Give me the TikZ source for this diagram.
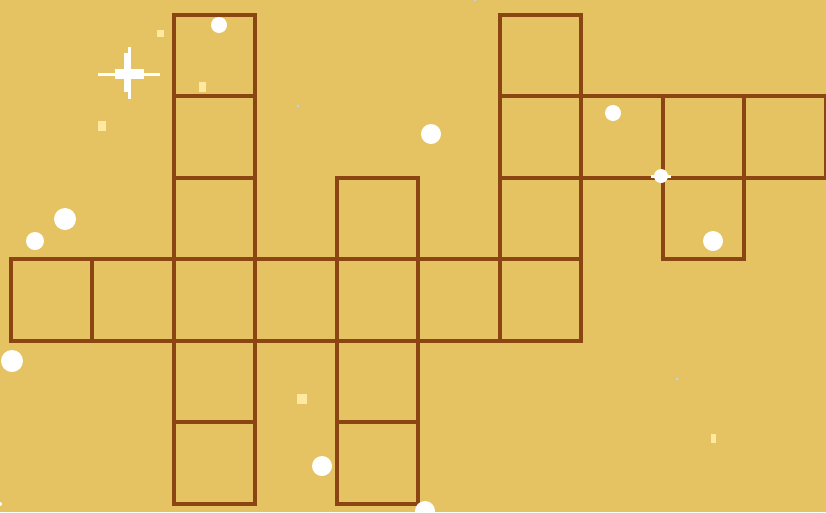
\documentclass[tikz,border=0pt]{standalone}
\usepackage{xcolor}
\definecolor{sand}{RGB}{229,195,99}
\definecolor{frame}{RGB}{139,69,19}
\definecolor{pale}{RGB}{255,232,160}
\definecolor{ice}{RGB}{190,210,235}
\tikzset{
  cell/.style={draw=frame,line width=4pt},
  speck/.style={fill=white},
  glint/.style={fill=pale}
}

\begin{document}
\begin{tikzpicture}[x=1pt,y=-1pt]
  \fill[sand] (0,0) rectangle (826,512);
  \useasboundingbox (0,0) rectangle (826,512);
  % grid cells, (column/row)
  \foreach \c/\r in {2/0,2/1,2/2,2/3,2/4,2/5,0/3,1/3,3/3,4/3,5/3,6/3,4/2,4/4,4/5,6/0,6/1,6/2,7/1,8/1,9/1,8/2}
    \draw[cell] ({10.5+81.5*\c},{14.5+81.5*\r}) rectangle +(81.5,81.5);
  % white specks
  \foreach \px/\py/\rad in {219/25/8,65/219/11,35/241/9,431/134/10,613/113/8,713/241/10,12/361/11,322/466/10,425/511/10,0/504/2}
    \fill[speck] (\px,\py) circle (\rad pt);
  \fill[speck] (661,176) circle (7pt);
  \fill[speck] (651,175) rectangle (671,178);
  % pale specks
  \foreach \px/\py/\w/\h in {160/33/7/7,202/87/7/10,102/126/8/10,302/399/10/10,713/438/5/9}
    \fill[glint] ({\px-\w/2},{\py-\h/2}) rectangle +(\w,\h);
  \foreach \px/\py in {298/106,475/0,677/379}
    \fill[ice] (\px,\py) circle (1.5pt);
  % sparkle
  \fill[white] (98,73) rectangle (160,76);
  \fill[white] (128,47) rectangle (131,99);
  \fill[white] (124,53) rectangle (131,92);
  \fill[white] (115,69) rectangle (144,79);
\end{tikzpicture}
\end{document}
